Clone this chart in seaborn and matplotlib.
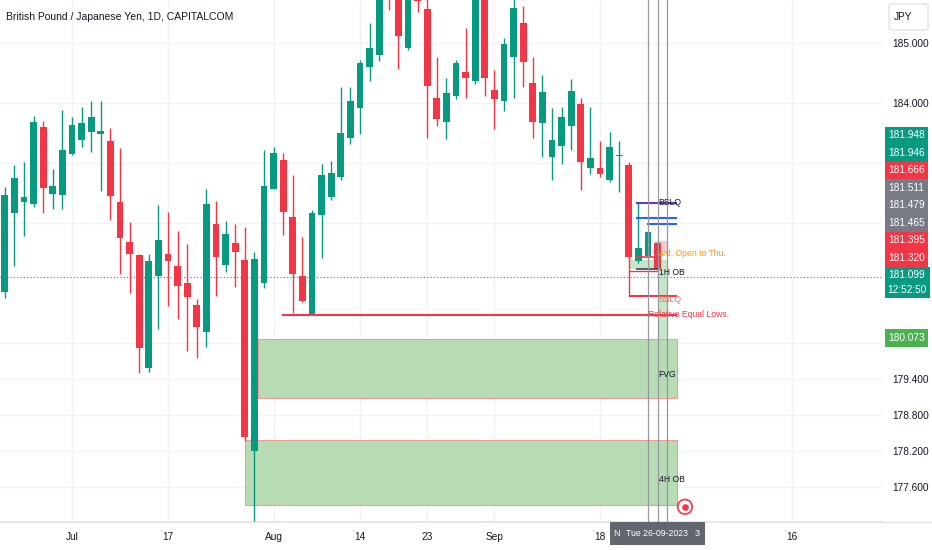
import numpy as np
import pandas as pd
import matplotlib
matplotlib.use("Agg")
import matplotlib.pyplot as plt
import seaborn as sns
from matplotlib.patches import Rectangle, FancyBboxPatch

# GBPJPY daily candles, 22 Jun - 26 Sep 2023
dates = pd.bdate_range("2023-06-22", "2023-09-26")
opens = [180.85, 182.17, 182.35, 182.31, 183.60, 182.48, 182.46,
         183.15, 183.38, 183.52, 183.49, 183.36, 182.35, 181.69, 181.47, 179.58, 181.11,
         181.48, 181.29, 181.00, 180.63, 180.19, 181.98, 181.30, 181.67, 181.38, 178.20,
         181.00, 182.57, 183.05, 182.10, 181.11, 180.47, 182.13, 182.44, 182.76, 183.42,
         183.91, 184.60, 184.80, 186.30, 186.20, 184.91, 185.85, 185.56, 184.08, 183.69,
         184.12, 184.52, 184.36, 186.00, 184.22, 184.03, 184.76, 185.34, 184.34, 183.67,
         183.10, 183.28, 183.62, 183.98, 182.92, 182.91, 182.71, 183.11, 182.97, 181.36,
         181.45, 181.67]
highs = [182.60, 182.97, 183.02, 183.78, 183.70, 182.90, 183.88,
         183.77, 183.93, 184.03, 184.03, 183.58, 183.25, 182.01, 181.49, 181.49, 182.30,
         182.19, 181.86, 181.65, 180.73, 182.56, 182.37, 182.03, 181.98, 181.94, 181.51,
         183.21, 183.27, 183.16, 182.80, 181.77, 182.22, 182.98, 183.03, 184.26, 184.26,
         184.72, 185.33, 186.10, 186.50, 186.40, 186.20, 186.00, 185.80, 184.76, 184.42,
         184.72, 185.25, 186.10, 186.20, 184.55, 185.08, 185.78, 185.61, 184.77, 184.47,
         183.92, 183.94, 184.40, 184.08, 183.93, 183.36, 183.51, 183.37, 183.01, 182.35,
         181.86, 181.70]
lows = [180.75, 181.28, 181.78, 182.26, 182.17, 182.24, 182.24,
        183.13, 183.27, 183.18, 182.53, 182.05, 181.15, 180.83, 179.50, 179.51, 180.23,
        180.61, 180.40, 179.86, 179.75, 179.94, 180.79, 181.18, 180.94, 178.37, 177.03,
        180.91, 182.56, 181.80, 180.50, 180.69, 180.46, 181.42, 182.39, 182.71, 183.32,
        183.48, 184.36, 184.70, 185.55, 184.56, 184.88, 185.52, 183.41, 183.62, 183.40,
        184.07, 184.09, 184.31, 184.11, 183.56, 183.86, 184.08, 184.26, 183.41, 183.10,
        182.72, 182.98, 183.21, 182.55, 182.81, 182.76, 182.69, 182.51, 181.40, 181.34,
        181.42, 181.20]
closes = [182.46, 182.75, 182.44, 183.68, 182.58, 182.62, 183.22,
          183.63, 183.67, 183.77, 183.53, 182.45, 181.75, 181.49, 179.91, 181.37, 181.72,
          181.36, 180.95, 180.76, 180.26, 182.32, 181.44, 181.82, 181.51, 178.43, 181.40,
          182.62, 183.16, 182.19, 181.15, 180.70, 182.16, 182.80, 182.83, 183.50, 184.03,
          184.66, 184.91, 185.90, 185.90, 185.11, 186.00, 185.70, 184.29, 183.73, 184.16,
          184.66, 184.41, 185.90, 184.41, 184.07, 184.98, 185.58, 184.68, 183.69, 184.18,
          183.38, 183.76, 184.20, 183.01, 183.09, 182.82, 183.27, 183.14, 181.44, 181.59,
          181.85, 181.24]

# time axis labels
tick_dates = ["2023-07-03", "2023-07-17", "2023-08-01", "2023-08-14",
              "2023-08-23", "2023-09-01", "2023-09-18", "2023-10-16"]
tick_labels = ["Jul", "17", "Aug", "14", "23", "Sep", "18", "16"]

# price scale
price_ticks = [185, 184, 183, 182, 180, 179.4, 178.8, 178.2, 177.6]
price_labels = ["185.000", "184.000", "", "", "", "179.400", "178.800", "178.200", "177.600"]

# stacked price tags on the right scale
tag_labels = ["181.948", "181.946", "181.666", "181.511", "181.479",
              "181.465", "181.395", "181.320"]
tag_kinds = ["up", "up", "down", "flat", "flat", "flat", "down", "down"]
last_price = 181.099
countdown = "12:52:50"
fvg_top = 180.073

# drawn zones / levels, x in trading days from 3 Jul
fvg = dict(x0=19.35, x1=63, lo=179.08, hi=fvg_top)
ob_4h = dict(x0=18, x1=63, lo=177.30, hi=178.39)
equal_lows = dict(x0=21.9, x1=63, y=180.47)
bslq = dict(x0=58.8, x1=63, y=182.34)
blue_levels = [(58.8, 63, 182.09), (59.9, 63, 181.98)]
sslq = dict(x0=58, x1=63, y=180.79)
ob_1h = dict(x0=58, x1=61, lo=181.23, hi=181.38)
open_box = dict(x0=60.7, x1=61.95, lo=181.52, hi=181.70)
session_lines = [60, 61, 62]
target = (63.85, 177.27)

GREEN = "#089981"
RED = "#f23645"
GREY = "#787b86"
TEXT = "#131722"
GRID = "#f0f3fa"
kind_color = {"up": GREEN, "down": RED, "flat": GREY}
FS = 7.3
SMALL = 6.2

sns.set_theme(style="white")
plt.rcParams["font.family"] = ["Liberation Sans", "DejaVu Sans"]

W, H = 932, 550
fig = plt.figure(figsize=(W / 100, H / 100), dpi=100)
ax = fig.add_axes([0, 28 / H, 883 / W, 522 / H])

ref = dates.get_loc(pd.Timestamp("2023-07-03"))
x = np.arange(len(dates)) - ref
o, h, l, c = map(np.array, (opens, highs, lows, closes))
cols = np.where(c >= o, GREEN, RED)

# candles
ax.vlines(x, l, h, colors=cols, lw=1, zorder=3)
body = np.maximum(np.abs(c - o), 0.025)
ax.bar(x, body, bottom=np.minimum(o, c), width=0.7, color=cols, zorder=3, linewidth=0)

# zones
for z in (fvg, ob_4h):
    ax.add_patch(Rectangle((z["x0"], z["lo"]), z["x1"] - z["x0"], z["hi"] - z["lo"],
                           facecolor="#b7dcb4", edgecolor="#ef9a9a", lw=0.8, zorder=1))
ax.text(61.1, 179.48, "FVG", fontsize=SMALL, color=TEXT, va="center", zorder=5)
ax.text(61.1, 177.72, "4H OB", fontsize=SMALL, color=TEXT, va="center", zorder=5)

# green band between the session lines
ax.add_patch(Rectangle((61, fvg_top), 1, ob_1h["hi"] - fvg_top, facecolor="#c8e6c9",
                       edgecolor="none", zorder=1))
ax.add_patch(Rectangle((ob_1h["x0"], ob_1h["lo"]), ob_1h["x1"] - ob_1h["x0"],
                       ob_1h["hi"] - ob_1h["lo"], facecolor="#c8e6c9", edgecolor="none", zorder=1))
ax.add_patch(Rectangle((open_box["x0"], open_box["lo"]), open_box["x1"] - open_box["x0"],
                       open_box["hi"] - open_box["lo"], facecolor="#f8c8d0", edgecolor="none", zorder=2))

# levels
ax.hlines(equal_lows["y"], equal_lows["x0"], equal_lows["x1"], color=RED, lw=1.5, zorder=4)
ax.text(60.0, equal_lows["y"], "Relative Equal Lows.", fontsize=SMALL, color=RED, va="center", zorder=5)
ax.hlines(bslq["y"], bslq["x0"], bslq["x1"], color="#673ab7", lw=1.5, zorder=4)
ax.text(61.1, bslq["y"], "BSLQ", fontsize=SMALL, color=TEXT, va="center", zorder=5)
for x0, x1, y in blue_levels:
    ax.hlines(y, x0, x1, color="#2962ff", lw=1.5, zorder=4)
ax.hlines(sslq["y"], sslq["x0"], sslq["x1"], color=RED, lw=1.5, zorder=4)
ax.vlines(sslq["x0"], sslq["y"], 181.44, color=RED, lw=1, zorder=4)
ax.hlines(181.20, sslq["x0"], 61, color=RED, lw=1, zorder=4)
ax.hlines(181.44, 58.8, 61, color=RED, lw=1.2, zorder=4)
ax.text(61.1, sslq["y"] - 0.06, "SSLQ", fontsize=SMALL, color="#f26b55", va="center", zorder=5)
ax.hlines(ob_1h["lo"], 58.8, 61, color="#434651", lw=1.2, zorder=4)
ax.text(61.1, ob_1h["lo"] - 0.06, "1H OB", fontsize=SMALL, color=TEXT, va="center", zorder=5)
ax.hlines(181.49, 60.9, 61.6, color="#ff9800", lw=1, zorder=4)
ax.text(60.5, 181.49, "Wed. Open to Thu.", fontsize=SMALL, color="#ff9800", va="center", zorder=2)

for sx in session_lines:
    ax.axvline(sx, color="#9598a1", lw=0.9, zorder=4)

ax.axhline(last_price, color=GREEN, lw=0.8, ls=(0, (1, 2)), zorder=2)

ax.scatter(*target, s=110, facecolors="none", edgecolors=RED, linewidths=1.2, zorder=6)
ax.scatter(*target, s=14, color=RED, zorder=6)

# axes styling
all_days = pd.bdate_range("2023-06-22", "2023-10-31")
tick_x = all_days.get_indexer(pd.to_datetime(tick_dates)) - ref
ax.set_xlim(-7.5, 84.48)
ax.set_ylim(177.017, 185.717)
ax.set_xticks(tick_x)
ax.set_xticklabels(tick_labels)
ax.set_yticks(price_ticks)
ax.set_yticklabels(price_labels)
ax.yaxis.tick_right()
ax.tick_params(axis="both", length=0, labelsize=FS, labelcolor=TEXT)
ax.tick_params(axis="y", pad=7)
ax.tick_params(axis="x", pad=7)
ax.grid(True, color=GRID, lw=1, zorder=0)
ax.set_axisbelow(True)
for s in ("top", "right", "left"):
    ax.spines[s].set_visible(False)
ax.spines["bottom"].set_color("#e0e3eb")
fig.add_artist(plt.Line2D([883 / W, 1], [28 / H, 28 / H], color="#e0e3eb", lw=1))

def fx(px):
    return px / W

def fy(py):
    return 1 - py / H

fig.text(fx(6), fy(17), "British Pound / Japanese Yen, 1D, CAPITALCOM",
         fontsize=7.5, color=TEXT, va="center")

# currency button
fig.add_artist(FancyBboxPatch((fx(889), fy(30)), fx(39), 26 / H,
                              boxstyle="round,pad=0,rounding_size=0.004",
                              facecolor="white", edgecolor="#e0e3eb", lw=1,
                              transform=fig.transFigure))
fig.text(fx(903), fy(17), "JPY", fontsize=FS, color=TEXT, ha="center", va="center")

# stacked price tags
top = 126.7
step = 17.5
for i, (lab, kind) in enumerate(zip(tag_labels, tag_kinds)):
    y0 = top + i * step
    fig.add_artist(Rectangle((fx(885), fy(y0 + step)), fx(43), step / H,
                             facecolor=kind_color[kind], edgecolor="none",
                             transform=fig.transFigure))
    fig.text(fx(906.5), fy(y0 + step / 2), lab, fontsize=FS, color="white",
             ha="center", va="center")
y0 = top + len(tag_labels) * step
fig.add_artist(Rectangle((fx(885), fy(y0 + 31)), fx(45), 31 / H,
                         facecolor=GREEN, edgecolor="none", transform=fig.transFigure))
fig.text(fx(907), fy(y0 + 8), f"{last_price:.3f}", fontsize=FS, color="white",
         ha="center", va="center")
fig.text(fx(907), fy(y0 + 23), countdown, fontsize=FS, color="white",
         ha="center", va="center")
fig.add_artist(Rectangle((fx(885), fy(346.5)), fx(43), step / H,
                         facecolor="#4caf50", edgecolor="none", transform=fig.transFigure))
fig.text(fx(906.5), fy(338), f"{fvg_top:.3f}", fontsize=FS, color="white",
         ha="center", va="center")

# crosshair date label
fig.add_artist(Rectangle((fx(610), fy(545)), fx(95), 23 / H, facecolor="#63666f",
                         edgecolor="none", transform=fig.transFigure))
fig.text(fx(617), fy(534), "N", fontsize=6.5, color="white", ha="center", va="center")
fig.text(fx(657), fy(534), "Tue 26-09-2023", fontsize=6.3, color="white", ha="center", va="center")
fig.text(fx(697), fy(534), "3", fontsize=6.5, color="white", ha="center", va="center")

fig.savefig("out.png", dpi=100)
